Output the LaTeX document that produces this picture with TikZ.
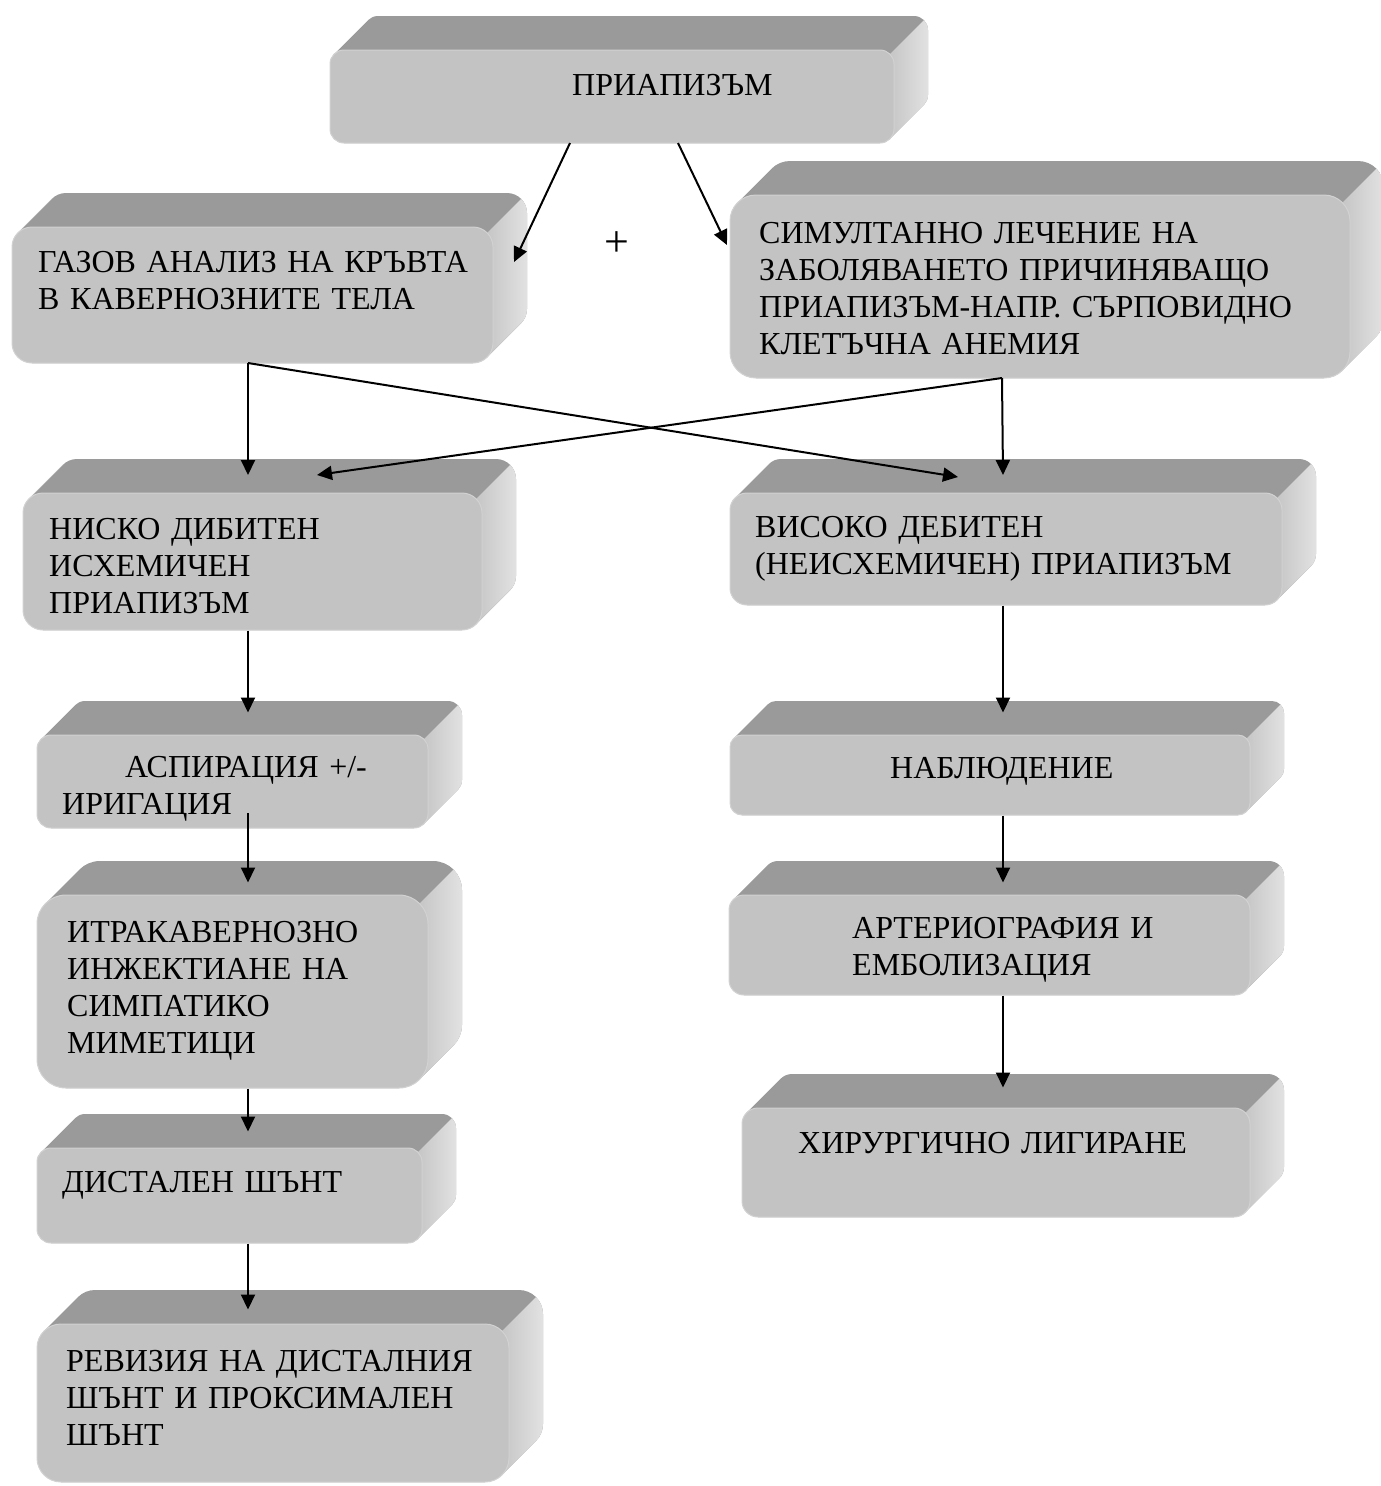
\documentclass[tikz,border=0pt]{standalone}
\usepackage{fontspec}
\setmainfont{Liberation Serif}
\usetikzlibrary{arrows.meta,calc}
\definecolor{topc}{RGB}{154,154,154}
\definecolor{facec}{RGB}{195,195,195}
\definecolor{edgec}{RGB}{210,210,210}
\definecolor{sidea}{RGB}{198,198,198}
\definecolor{sideb}{RGB}{230,230,230}
% #1 name, #2 x0, #3 y0, #4 x1, #5 y1 (front face, px, y downwards), #6 corner radius
\newcommand\bevelbox[6]{%
  \pgfmathsetmacro\bxa{#2}%
  \pgfmathsetmacro\bya{#3}%
  \pgfmathsetmacro\bxb{#4}%
  \pgfmathsetmacro\byb{#5}%
  \pgfmathsetmacro\brr{#6}%
  \pgfmathsetmacro\bax{#4-0.293*#6}%
  \pgfmathsetmacro\bay{#3+0.293*#6}%
  \begin{scope}
    \clip[rounded corners=\brr pt] \foreach \t in {0,1,...,34} { (\bxa+\t,\bya-\t) rectangle (\bxb+\t,\byb-\t) };
    \fill[topc] (\bxa-2,\bya-38) rectangle (\bxb+38,\byb+2);
    \shade[left color=sidea,right color=sideb] (\bax,\bay) -- (\bax+40,\bay-40) -- (\bxb+40,\bay-40) -- (\bxb+40,\byb+6) -- (\bax,\byb+6) -- cycle;
  \end{scope}
  \pgfmathsetmacro\bw{#4-#2}%
  \pgfmathsetmacro\bh{#5-#3}%
  \node[face, rounded corners=\brr pt, minimum width=\bw pt, minimum height=\bh pt] (#1) at ({(#2+#4)/2},{(#3+#5)/2}) {};
}
\begin{document}
\begin{tikzpicture}[x=1pt,y=-1pt,
  face/.style={fill=facec, draw=edgec, line width=1pt, inner sep=0pt},
  txt/.style={anchor=base west, inner sep=0pt, align=left, text width=640pt, font=\fontsize{32}{37}\selectfont},
  conn/.style={line width=2pt, -{Triangle[length=15pt,width=14pt]}}]

\path[use as bounding box] (0,0) rectangle (1381,1486);

\bevelbox{b1}{330}{50}{894}{143}{14}
\bevelbox{b2}{12}{227}{493}{363}{20}
\bevelbox{b3}{730}{195}{1350}{378}{26}
\bevelbox{b4}{23}{493}{482}{630}{20}
\bevelbox{b5}{37}{735}{428}{828}{14}
\bevelbox{b6}{37}{895}{428}{1088}{29}
\bevelbox{b7}{37}{1148}{422}{1243}{14}
\bevelbox{b8}{37}{1324}{509}{1482}{24}
\bevelbox{b9}{730}{493}{1282}{605}{17}
\bevelbox{b10}{730}{735}{1250}{815}{12}
\bevelbox{b11}{729}{895}{1250}{995}{15}
\bevelbox{b12}{742}{1108}{1250}{1217}{16}

\node[txt] (t1) at (572,95) {ПРИАПИЗЪМ};
\node[txt] (t2) at (38,272) {ГАЗОВ АНАЛИЗ НА КРЪВТА\\В КАВЕРНОЗНИТЕ ТЕЛА};
\node[txt] (t3) at (759,243) {СИМУЛТАННО ЛЕЧЕНИЕ НА\\ЗАБОЛЯВАНЕТО ПРИЧИНЯВАЩО\\ПРИАПИЗЪМ-НАПР. СЪРПОВИДНО\\КЛЕТЪЧНА АНЕМИЯ};
\node[txt] (t4) at (49,539) {НИСКО ДИБИТЕН\\ИСХЕМИЧЕН\\ПРИАПИЗЪМ};
\node[txt] (t5) at (62,777) {\hspace*{63pt}АСПИРАЦИЯ +/-\\ИРИГАЦИЯ};
\node[txt] (t6) at (67,942) {ИТРАКАВЕРНОЗНО\\ИНЖЕКТИАНЕ НА\\СИМПАТИКО\\МИМЕТИЦИ};
\node[txt] (t7) at (62,1192) {ДИСТАЛЕН ШЪНТ};
\node[txt] (t8) at (66,1371) {РЕВИЗИЯ НА ДИСТАЛНИЯ\\ШЪНТ И ПРОКСИМАЛЕН\\ШЪНТ};
\node[txt] (t9) at (755,537) {ВИСОКО ДЕБИТЕН\\(НЕИСХЕМИЧЕН) ПРИАПИЗЪМ};
\node[txt] (t10) at (890,778) {НАБЛЮДЕНИЕ};
\node[txt] (t11) at (852,938) {АРТЕРИОГРАФИЯ И\\ЕМБОЛИЗАЦИЯ};
\node[txt] (t12) at (798,1153) {ХИРУРГИЧНО ЛИГИРАНЕ};
\node[font=\fontsize{44}{44}\selectfont, inner sep=0pt] (plus) at (617,244) {+};

% connector end points
\coordinate (s1a) at (570,143);
\coordinate (e2) at (514,262);
\coordinate (s1b) at (678,143);
\coordinate (e3) at (727,245);
\coordinate (j2) at (248,363);
\coordinate (j3) at (1002,378);
\coordinate (colL) at (248,0);
\coordinate (colR) at (1003,0);
\coordinate (e4a) at (248,475);
\coordinate (e4b) at (317,475);
\coordinate (e9a) at (1003,475);
\coordinate (e9b) at (958,477);
\coordinate (s5) at (248,813);

\draw[conn] (s1a) -- (e2);
\draw[conn] (s1b) -- (e3);
\draw[conn] (j2) -- (e4a);
\draw[conn] (j2) -- (e9b);
\draw[conn] (j3) -- (e9a);
\draw[conn] (j3) -- (e4b);

\draw[conn] (b4.south -| colL) -- ($(b5.north -| colL)+(0,-22)$);
\draw[conn] (s5) -- ($(b6.north -| colL)+(0,-12)$);
\draw[conn] (b6.south -| colL) -- ($(b7.north -| colL)+(0,-16)$);
\draw[conn] (b7.south -| colL) -- ($(b8.north -| colL)+(0,-14)$);

\draw[conn] (b9.south -| colR) -- ($(b10.north -| colR)+(0,-22)$);
\draw[conn] (b10.south -| colR) -- ($(b11.north -| colR)+(0,-12)$);
\draw[conn] (b11.south -| colR) -- ($(b12.north -| colR)+(0,-20)$);
\end{tikzpicture}
\end{document}
